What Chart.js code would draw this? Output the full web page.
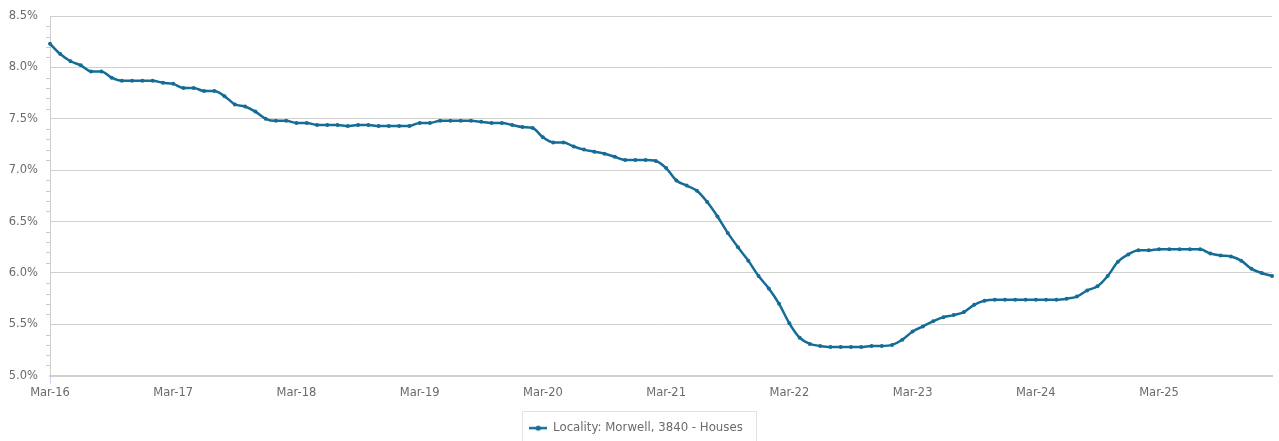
<!DOCTYPE html>
<html>
<head>
<meta charset="utf-8">
<script src="https://cdn.jsdelivr.net/npm/chart.js@4.4.1/dist/chart.umd.min.js"></script>
<style>
  html, body { margin: 0; padding: 0; background: #ffffff; }
  #wrap { width: 1279px; height: 441px; position: relative; }
</style>
</head>
<body>
<div id="wrap"><canvas id="c" width="1279" height="441"></canvas></div>
<script>
// ---- Data ----
const categories = [
  "Mar-16","Apr-16","May-16","Jun-16","Jul-16","Aug-16","Sep-16","Oct-16","Nov-16","Dec-16","Jan-17","Feb-17",
  "Mar-17","Apr-17","May-17","Jun-17","Jul-17","Aug-17","Sep-17","Oct-17","Nov-17","Dec-17","Jan-18","Feb-18",
  "Mar-18","Apr-18","May-18","Jun-18","Jul-18","Aug-18","Sep-18","Oct-18","Nov-18","Dec-18","Jan-19","Feb-19",
  "Mar-19","Apr-19","May-19","Jun-19","Jul-19","Aug-19","Sep-19","Oct-19","Nov-19","Dec-19","Jan-20","Feb-20",
  "Mar-20","Apr-20","May-20","Jun-20","Jul-20","Aug-20","Sep-20","Oct-20","Nov-20","Dec-20","Jan-21","Feb-21",
  "Mar-21","Apr-21","May-21","Jun-21","Jul-21","Aug-21","Sep-21","Oct-21","Nov-21","Dec-21","Jan-22","Feb-22",
  "Mar-22","Apr-22","May-22","Jun-22","Jul-22","Aug-22","Sep-22","Oct-22","Nov-22","Dec-22","Jan-23","Feb-23",
  "Mar-23","Apr-23","May-23","Jun-23","Jul-23","Aug-23","Sep-23","Oct-23","Nov-23","Dec-23","Jan-24","Feb-24",
  "Mar-24","Apr-24","May-24","Jun-24","Jul-24","Aug-24","Sep-24","Oct-24","Nov-24","Dec-24","Jan-25","Feb-25",
  "Mar-25","Apr-25","May-25","Jun-25","Jul-25","Aug-25","Sep-25","Oct-25","Nov-25","Dec-25","Jan-26","Feb-26"
];
const seriesName = "Locality: Morwell, 3840 - Houses";
const yieldValues = [
  8.23, 8.13, 8.06, 8.02, 7.96, 7.96, 7.90, 7.87, 7.87, 7.87, 7.87, 7.85,
  7.84, 7.80, 7.80, 7.77, 7.77, 7.72, 7.64, 7.62, 7.57, 7.50, 7.48, 7.48,
  7.46, 7.46, 7.44, 7.44, 7.44, 7.43, 7.44, 7.44, 7.43, 7.43, 7.43, 7.43,
  7.46, 7.46, 7.48, 7.48, 7.48, 7.48, 7.47, 7.46, 7.46, 7.44, 7.42, 7.41,
  7.32, 7.27, 7.27, 7.23, 7.20, 7.18, 7.16, 7.13, 7.10, 7.10, 7.10, 7.09,
  7.02, 6.90, 6.85, 6.80, 6.69, 6.55, 6.39, 6.25, 6.12, 5.97, 5.85, 5.70,
  5.51, 5.37, 5.31, 5.29, 5.28, 5.28, 5.28, 5.28, 5.29, 5.29, 5.30, 5.35,
  5.43, 5.48, 5.53, 5.57, 5.59, 5.62, 5.69, 5.73, 5.74, 5.74, 5.74, 5.74,
  5.74, 5.74, 5.74, 5.75, 5.77, 5.83, 5.87, 5.97, 6.11, 6.18, 6.22, 6.22,
  6.23, 6.23, 6.23, 6.23, 6.23, 6.19, 6.17, 6.16, 6.12, 6.04, 6.00, 5.97
];
const yTickValues = [5.0, 5.5, 6.0, 6.5, 7.0, 7.5, 8.0, 8.5];
const xTickMonth = "Mar";

// ---- Styling ----
const LINE = '#156c96';
const TEXT = '#6b6b6b';
const FONT = "'DejaVu Sans', Verdana, sans-serif";

// legend marker: short line with a dot
const marker = document.createElement('canvas');
marker.width = 18; marker.height = 8;
(function(){
  const g = marker.getContext('2d');
  g.strokeStyle = LINE; g.lineWidth = 2.5;
  g.beginPath(); g.moveTo(0, 4); g.lineTo(18, 4); g.stroke();
  g.fillStyle = LINE; g.beginPath(); g.arc(9, 4, 2.6, 0, Math.PI * 2); g.fill();
})();

const extras = {
  id: 'extras',
  afterDraw(chart) {
    const ctx = chart.ctx;
    const y = chart.scales.y;
    const left = chart.chartArea.left;
    ctx.save();
    // minor ticks on y axis
    ctx.strokeStyle = '#c8c8c8';
    ctx.lineWidth = 1;
    for (let i = 51; i < 85; i++) {
      if (i % 5 === 0) continue;
      const py = Math.round(y.getPixelForValue(i / 10)) + 0.5;
      ctx.beginPath(); ctx.moveTo(left - 4, py); ctx.lineTo(left, py); ctx.stroke();
    }
    // legend frame
    const hb = chart.legend.legendHitBoxes && chart.legend.legendHitBoxes[0];
    if (hb) {
      ctx.strokeStyle = '#e2e2e2';
      ctx.lineWidth = 1;
      const x0 = Math.round(hb.left - 7) + 0.5;
      const x1 = Math.round(hb.left + hb.width + 13) + 0.5;
      const y0 = Math.round(hb.top - 11) + 0.5;
      ctx.beginPath();
      ctx.moveTo(x0, chart.height + 5); ctx.lineTo(x0, y0); ctx.lineTo(x1, y0); ctx.lineTo(x1, chart.height + 5);
      ctx.stroke();
    }
    ctx.restore();
  }
};

new Chart(document.getElementById('c'), {
  type: 'line',
  data: {
    labels: categories,
    datasets: [{
      label: seriesName,
      data: yieldValues,
      borderColor: LINE,
      backgroundColor: LINE,
      borderWidth: 2.5,
      pointRadius: 2,
      pointBorderWidth: 0,
      pointBackgroundColor: LINE,
      tension: 0.35,
      cubicInterpolationMode: 'monotone',
      fill: false
    }]
  },
  options: {
    responsive: false,
    animation: false,
    devicePixelRatio: 1,
    layout: { padding: { top: 16, right: 7, left: 0, bottom: -3 } },
    scales: {
      x: {
        type: 'category',
        offset: false,
        afterFit(s) { s.height = 43.5; },
        border: { display: true, color: '#d0d0d0', width: 2 },
        grid: {
          drawOnChartArea: false,
          drawTicks: true,
          tickLength: 8,
          color: (c) => (c.tick && categories[c.index] && categories[c.index].startsWith(xTickMonth)) ? '#c6d6ea' : 'rgba(0,0,0,0)'
        },
        ticks: {
          autoSkip: false,
          maxRotation: 0,
          minRotation: 0,
          padding: 2,
          color: TEXT,
          font: { family: FONT, size: 11.5 },
          callback: (v, i) => categories[i].startsWith(xTickMonth) ? categories[i] : null
        }
      },
      y: {
        min: 5.0,
        max: 8.5,
        afterFit(s) { s.width = 50; s.paddingTop = 0; s.paddingBottom = 0; },
        afterBuildTicks(s) { s.ticks = yTickValues.map(v => ({ value: v })); },
        border: { display: true, color: '#d0d0d0', width: 1 },
        grid: { color: '#d0d0d0', lineWidth: 1, drawTicks: false },
        ticks: {
          padding: 12,
          color: TEXT,
          font: { family: FONT, size: 11.5 },
          callback: (v) => Number(v).toFixed(1) + '%'
        }
      }
    },
    plugins: {
      legend: {
        display: true,
        position: 'bottom',
        labels: {
          usePointStyle: true,
          pointStyle: marker,
          pointStyleWidth: 18,
          boxHeight: 8,
          padding: 3,
          color: TEXT,
          font: { family: FONT, size: 11.75 },
          generateLabels(chart) {
            return [{
              text: seriesName,
              fillStyle: LINE,
              strokeStyle: LINE,
              lineWidth: 0,
              pointStyle: marker,
              hidden: false,
              datasetIndex: 0,
              fontColor: TEXT
            }];
          }
        }
      },
      tooltip: { enabled: false }
    }
  },
  plugins: [extras]
});
</script>
</body>
</html>
